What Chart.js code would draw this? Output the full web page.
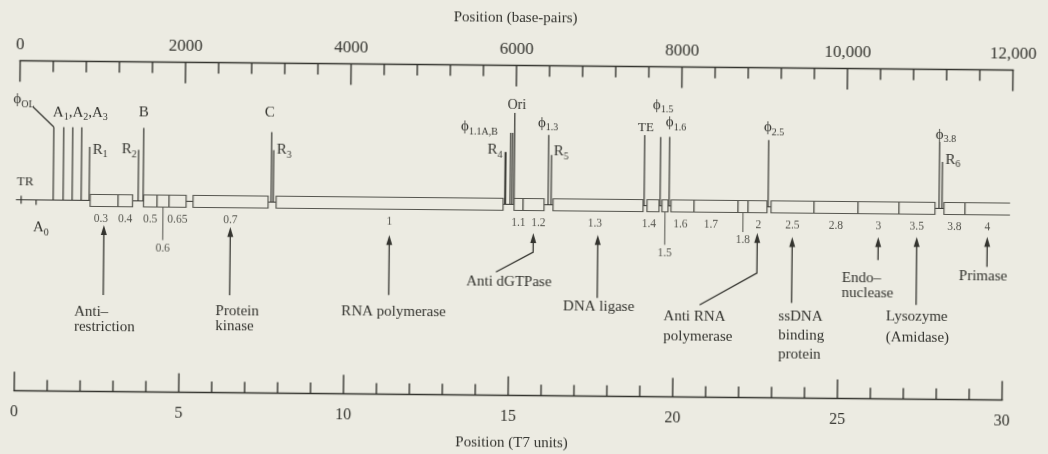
<!DOCTYPE html>
<html>
<head>
<meta charset="utf-8">
<script src="https://cdn.jsdelivr.net/npm/chart.js@4.4.1/dist/chart.umd.min.js"></script>
<style>
  html, body { margin: 0; padding: 0; background: #ecebe2; overflow: hidden; }
  #map { display: block; transform: rotate(0.54deg); }
</style>
</head>
<body>
<canvas id="map" width="1048" height="454"></canvas>
<script>
// T7 early region, positions in base-pairs

const geneNames = ['0.3', '0.4', '0.5', '0.6', '0.65', '0.7', '1', '1.1', '1.2', '1.3', '1.4', '1.5',
  '1.6', '1.7', '1.8', '2', '2.5', '2.8', '3', '3.5', '3.8', '4'];
const geneStart = [862, 1200, 1508, 1671, 1816, 2106, 3110, 5986, 6095, 6457, 7593, 7774,
  7883, 8161, 8693, 8814, 9092, 9611, 10143, 10638, 11182, 11436];
const geneEnd = [1200, 1375, 1671, 1816, 2022, 3013, 5853, 6095, 6348, 7545, 7738, 7847,
  8161, 8693, 8814, 9043, 9611, 10143, 10638, 11073, 11436, 11980];

// promoters (A, B, C = E. coli, ϕ = T7), RNase III sites (R), terminator, origin
const siteNames = ['TR', 'A0', 'ϕOL', 'A1', 'A2', 'A3', 'R1', 'R2', 'B', 'C', 'R3', 'R4', 'ϕ1.1A', 'ϕ1.1B',
  'Ori', 'ϕ1.3', 'R5', 'TE', 'ϕ1.5', 'ϕ1.6', 'ϕ2.5', 'ϕ3.8', 'R6'];
const sitePos = [28, 209, 415, 535, 644, 753, 850, 1442, 1502, 3049, 3075, 5877, 5937, 5961,
  5985, 6397, 6433, 7557, 7750, 7859, 9056, 11122, 11158];

const productNames = [['Anti–', 'restriction'], ['Protein', 'kinase'], ['RNA polymerase'], ['Anti dGTPase'],
  ['DNA ligase'], ['Anti RNA', 'polymerase'], ['ssDNA', 'binding', 'protein'], ['Endo–', 'nuclease'],
  ['Lysozyme', '(Amidase)'], ['Primase']];
const productGenes = ['0.3', '0.7', '1', '1.2', '1.3', '2', '2.5', '3', '3.5', '4'];

const bpMajorTicks = [0, 2000, 4000, 6000, 8000, 10000, 12000];
const bpTickLabels = ['0', '2000', '4000', '6000', '8000', '10,000', '12,000'];
const unitMajorTicks = [0, 5, 10, 15, 20, 25, 30];
const unitTickLabels = ['0', '5', '10', '15', '20', '25', '30'];

// ---- layout / style (not data) ----
const family = "'Liberation Serif', 'DejaVu Serif', serif";
const ink = '#34342f';
const faint = '#55554e';
const paper = '#ecebe2';

const LEVEL = { genome: 139, boxHalf: 6, geneLabel: 157.5 };
const leaderLabels = { '0.6': 186, '1.5': 186, '1.8': 172.5 };
const geneLabelShift = { '0.3': -3, '1.2': 5, '1.3': -3, '1.4': -4, '1.6': -2, '1.7': -5, '2': 1 };

const siteLayout = {
  'TR':    { cross: 4, text: 'TR', dx: 4, ly: 121, align: 'center', size: 13 },
  'A0':    { down: 5, text: 'A{0}', dx: -3, ly: 167, align: 'left' },
  'ϕOL':   { top: 66, bend: [-21, 46], text: 'ϕ{OL}', dx: -30, ly: 39, align: 'center' },
  'A1':    { top: 66, text: 'A{1},A{2},A{3}', dx: -11, ly: 51.5, align: 'left' },
  'A2':    { top: 66 },
  'A3':    { top: 66 },
  'R1':    { top: 85.5, text: 'R{1}', dx: 3, ly: 88.5, align: 'left' },
  'R2':    { top: 88, text: 'R{2}', dx: -2, ly: 88, align: 'right' },
  'B':     { top: 66, text: 'B', dx: 0, ly: 51, align: 'center' },
  'C':     { top: 69, text: 'C', dx: -2, ly: 50, align: 'center' },
  'R3':    { top: 87, text: 'R{3}', dx: 3, ly: 87, align: 'left' },
  'R4':    { top: 86.7, text: 'R{4}', dx: -3, ly: 85, align: 'right', width: 2 },
  'ϕ1.1A': { top: 67.6, text: 'ϕ{1.1A,B}', dx: -13, ly: 62, align: 'right' },
  'ϕ1.1B': { top: 67.6 },
  'Ori':   { top: 47.5, text: 'Ori', dx: 2, ly: 39.5, align: 'center', size: 14 },
  'ϕ1.3':  { top: 69.3, text: 'ϕ{1.3}', dx: -11, ly: 57.3, align: 'left' },
  'R5':    { top: 89.2, text: 'R{5}', dx: 2, ly: 86, align: 'left' },
  'TE':    { top: 68.4, text: 'TE', dx: 1, ly: 61.4, align: 'center', size: 13 },
  'ϕ1.5':  { top: 70.2, text: 'ϕ{1.5}', dx: -8, ly: 38.2, align: 'left' },
  'ϕ1.6':  { top: 70.1, text: 'ϕ{1.6}', dx: -4, ly: 56, align: 'left' },
  'ϕ2.5':  { top: 72.2, text: 'ϕ{2.5}', dx: -5, ly: 60, align: 'left' },
  'ϕ3.8':  { top: 72.5, text: 'ϕ{3.8}', dx: -4, ly: 65.5, align: 'left' },
  'R6':    { top: 92.5, text: 'R{6}', dx: 3, ly: 90.5, align: 'left' }
};

const productLayout = {
  '0.3': { head: 163.5, stem: 233.5, dx: -29, ly: 250.5, lh: 15, align: 'left' },
  '0.7': { head: 164.3, stem: 232.5, dx: -14, ly: 248.5, lh: 15, align: 'left' },
  '1':   { head: 170.8, stem: 230.8, dx: 5, ly: 247.5, align: 'center' },
  '1.2': { head: 167.5, stem: 186.5, bend: [-37, 206.7], dx: -24, ly: 216.5, align: 'center' },
  '1.3': { head: 168.8, stem: 231.8, dx: -34, ly: 240.5, align: 'left' },
  '2':   { head: 165.3, stem: 205.3, bend: [-57, 237.8], dx: -93, ly: 250, lh: 20, align: 'left' },
  '2.5': { head: 168.9, stem: 234.9, dx: -13, ly: 249, lh: 19, align: 'left' },
  '3':   { head: 168.2, stem: 191.2, dx: -36, ly: 210, lh: 15, align: 'left' },
  '3.5': { head: 167.8, stem: 235.8, dx: -30, ly: 248, lh: 21, align: 'left' },
  '4':   { head: 167.1, stem: 197.1, dx: -28, ly: 207, align: 'left' }
};

// text with {subscript} parts
function richText(ctx, str, x, y, size, align) {
  const parts = str.split(/(\{[^}]*\})/).filter(s => s).map(s =>
    s[0] === '{' ? { t: s.slice(1, -1), sub: true } : { t: s, sub: false });
  const subSize = Math.round(size * 0.68);
  let w = 0;
  parts.forEach(p => {
    ctx.font = (p.sub ? subSize : size) + 'px ' + family;
    p.w = ctx.measureText(p.t).width;
    w += p.w;
  });
  let cx = align === 'center' ? x - w / 2 : align === 'right' ? x - w : x;
  ctx.textAlign = 'left';
  ctx.textBaseline = 'middle';
  parts.forEach(p => {
    ctx.font = (p.sub ? subSize : size) + 'px ' + family;
    ctx.fillText(p.t, cx, p.sub ? y + size * 0.3 : y);
    cx += p.w;
  });
}

function vline(ctx, x, y1, y2) {
  ctx.beginPath();
  ctx.moveTo(x, y1);
  ctx.lineTo(x, y2);
  ctx.stroke();
}

function drawAxis(ctx, scale, yLine, dir, majors, majorLen, minorLen) {
  const vals = scale.ticks.map(t => t.value);
  ctx.lineWidth = 1.6;
  ctx.beginPath();
  ctx.moveTo(scale.getPixelForValue(vals[0]) - 0.8, yLine);
  ctx.lineTo(scale.getPixelForValue(vals[vals.length - 1]) + 0.8, yLine);
  ctx.stroke();
  ctx.lineWidth = 1.4;
  vals.forEach(v => {
    const p = scale.getPixelForValue(v);
    const len = majors.includes(v) ? majorLen : minorLen;
    vline(ctx, p, yLine, yLine + dir * len);
  });
}

const t7MapPlugin = {
  id: 't7map',
  afterDraw(chart) {
    const { ctx } = chart;
    const bp = chart.scales.x, units = chart.scales.x2, lvl = chart.scales.y;
    const X = v => bp.getPixelForValue(v);
    const Y = v => lvl.getPixelForValue(v);
    ctx.save();
    ctx.strokeStyle = ink;
    ctx.fillStyle = ink;

    // both position scales, ticks pointing inward
    drawAxis(ctx, bp, bp.bottom, 1, bpMajorTicks, 21, 11);
    drawAxis(ctx, units, units.top, -1, unitMajorTicks, 19, 11);

    const gy = Y(LEVEL.genome);

    // sites: vertical lines rising from the genome
    siteNames.forEach((name, i) => {
      const s = siteLayout[name];
      const x = X(sitePos[i]);
      ctx.lineWidth = s.width || 1.2;
      if (s.top !== undefined) {
        vline(ctx, x, gy, Y(s.top));
        if (s.bend) {
          ctx.beginPath();
          ctx.moveTo(x, Y(s.top));
          ctx.lineTo(x + s.bend[0], Y(s.bend[1]));
          ctx.stroke();
        }
      }
      if (s.down) vline(ctx, x, gy, Y(LEVEL.genome + s.down));
      if (s.cross) vline(ctx, x, Y(LEVEL.genome - s.cross), Y(LEVEL.genome + s.cross));
      if (s.text) richText(ctx, s.text, x + s.dx, Y(s.ly), s.size || 15, s.align);
    });

    // genome line
    const last = geneNames.length - 1;
    ctx.lineWidth = 1.2;
    ctx.beginPath();
    ctx.moveTo(X(bp.min), gy);
    ctx.lineTo(X(geneStart[last]), gy);
    ctx.stroke();

    // gene boxes
    const top = Y(LEVEL.genome - LEVEL.boxHalf), bot = Y(LEVEL.genome + LEVEL.boxHalf);
    geneNames.forEach((g, i) => {
      const x1 = X(geneStart[i]), x2 = X(geneEnd[i]);
      ctx.strokeStyle = faint;
      ctx.fillStyle = paper;
      ctx.fillRect(x1, top, x2 - x1, bot - top);
      ctx.beginPath();
      if (i === last) {
        ctx.moveTo(x2, top); ctx.lineTo(x1, top); ctx.lineTo(x1, bot); ctx.lineTo(x2, bot);
      } else {
        ctx.rect(x1, top, x2 - x1, bot - top);
      }
      ctx.stroke();

      ctx.fillStyle = faint;
      const cx = (x1 + x2) / 2;
      if (leaderLabels[g] !== undefined) {
        ctx.lineWidth = 1;
        vline(ctx, cx, bot, Y(leaderLabels[g] - 8));
        ctx.lineWidth = 1.2;
        richText(ctx, g, cx, Y(leaderLabels[g]), 11.5, 'center');
      } else {
        richText(ctx, g, cx + (geneLabelShift[g] || 0), Y(LEVEL.geneLabel), 11.5, 'center');
      }
    });

    // products: arrows up to their gene
    ctx.strokeStyle = ink;
    ctx.fillStyle = ink;
    productGenes.forEach((g, i) => {
      const p = productLayout[g];
      const gi = geneNames.indexOf(g);
      const x = X((geneStart[gi] + geneEnd[gi]) / 2);
      const hy = Y(p.head);
      ctx.beginPath();
      ctx.moveTo(x, hy);
      ctx.lineTo(x - 3, hy + 10);
      ctx.lineTo(x + 3, hy + 10);
      ctx.closePath();
      ctx.fill();
      ctx.lineWidth = 1.3;
      ctx.beginPath();
      ctx.moveTo(x, hy + 8);
      ctx.lineTo(x, Y(p.stem));
      if (p.bend) ctx.lineTo(x + p.bend[0], Y(p.bend[1]));
      ctx.stroke();
      productNames[i].forEach((line, k) => {
        richText(ctx, line, x + p.dx, Y(p.ly + k * (p.lh || 15)), 15, p.align);
      });
    });
    ctx.restore();
  }
};

const bpTicks = [];
for (let v = 0; v <= 12000; v += 400) bpTicks.push(v);
const unitTicks = [];
for (let v = 0; v <= 30; v += 1) unitTicks.push(v);

const tickFont = size => ({ family: family, size: size });

new Chart(document.getElementById('map'), {
  type: 'scatter',
  data: { datasets: [] },
  options: {
    responsive: false,
    animation: false,
    events: [],
    layout: { padding: { left: 15.6, right: 36.5, top: 0, bottom: 0 } },
    plugins: { legend: { display: false }, tooltip: { enabled: false } },
    scales: {
      x: {
        type: 'linear',
        position: 'top',
        min: -35,
        max: 12000,
        afterBuildTicks: s => { s.ticks = bpTicks.map(v => ({ value: v })); },
        afterFit: s => { s.height = 65.5; },
        grid: { display: false, drawTicks: false },
        border: { display: false },
        ticks: {
          autoSkip: false, maxRotation: 0, minRotation: 0, padding: 5.5,
          color: ink, font: tickFont(17),
          callback: v => { const k = bpMajorTicks.indexOf(v); return k >= 0 ? bpTickLabels[k] : ''; }
        },
        title: {
          display: true, text: 'Position (base-pairs)', color: ink,
          font: tickFont(15), padding: { top: 9, bottom: 0 }
        }
      },
      x2: {
        type: 'linear',
        position: 'bottom',
        min: 0,
        max: 30.24,
        afterBuildTicks: s => { s.ticks = unitTicks.map(v => ({ value: v })); },
        afterFit: s => { s.height = 58.5; },
        grid: { display: false, drawTicks: false },
        border: { display: false },
        ticks: {
          autoSkip: false, maxRotation: 0, minRotation: 0, padding: 11.7,
          color: ink, font: tickFont(16),
          callback: v => { const k = unitMajorTicks.indexOf(v); return k >= 0 ? unitTickLabels[k] : ''; }
        },
        title: {
          display: true, text: 'Position (T7 units)', color: ink,
          font: tickFont(15), padding: { top: 0, bottom: 2 }
        }
      },
      y: { display: false, reverse: true, min: 0, max: 330 }
    }
  },
  plugins: [t7MapPlugin]
});
</script>
</body>
</html>
